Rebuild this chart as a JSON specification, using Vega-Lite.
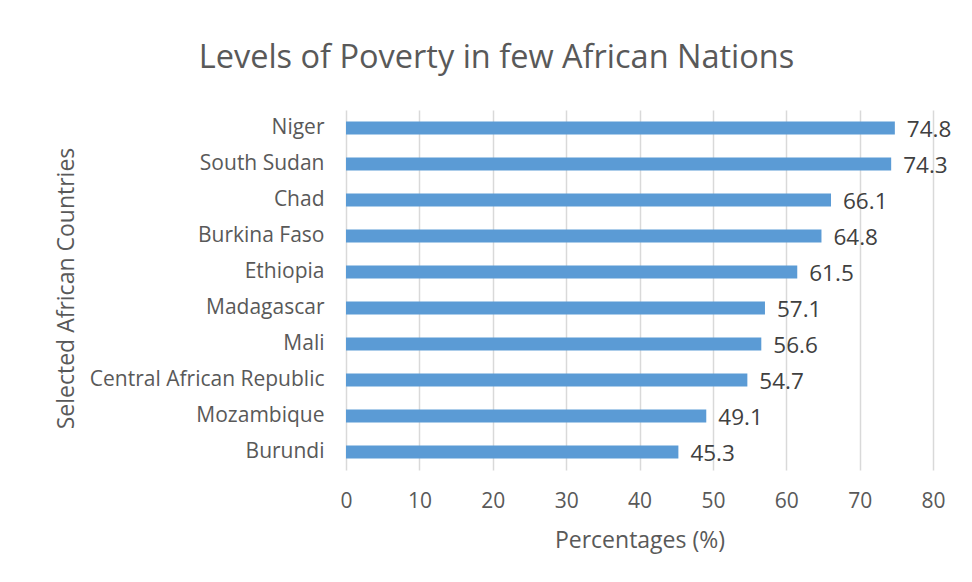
{
  "$schema": "https://vega.github.io/schema/vega-lite/v6.json",
  "width": 587,
  "height": 360,
  "autosize": {"type": "none"},
  "padding": {"left": 346, "top": 110, "right": 39, "bottom": 112},
  "background": "white",
  "title": {
    "text": "Levels of Poverty in few African Nations",
    "font": "Open Sans",
    "fontSize": 32.5,
    "fontWeight": "normal",
    "color": "#595959",
    "anchor": "middle",
    "dx": -143,
    "offset": 36
  },
  "data": {
    "values": [
      {"country": "Niger", "poverty": 74.8},
      {"country": "South Sudan", "poverty": 74.3},
      {"country": "Chad", "poverty": 66.1},
      {"country": "Burkina Faso", "poverty": 64.8},
      {"country": "Ethiopia", "poverty": 61.5},
      {"country": "Madagascar", "poverty": 57.1},
      {"country": "Mali", "poverty": 56.6},
      {"country": "Central African Republic", "poverty": 54.7},
      {"country": "Mozambique", "poverty": 49.1},
      {"country": "Burundi", "poverty": 45.3}
    ]
  },
  "encoding": {
    "y": {
      "field": "country",
      "type": "nominal",
      "sort": null,
      "scale": {"paddingInner": 0.64, "paddingOuter": 0.32},
      "axis": {
        "title": "Selected African Countries",
        "titleFont": "Open Sans",
        "titleFontSize": 23,
        "titleFontWeight": "normal",
        "titleColor": "#595959",
        "titleX": -273,
        "titleY": 178,
        "titleAngle": -90,
        "titleAlign": "center",
        "titleBaseline": "alphabetic",
        "labelFont": "Open Sans",
        "labelFontSize": 21,
        "labelColor": "#595959",
        "labelPadding": 22,
        "labelLimit": 400,
        "ticks": false,
        "domain": false
      }
    },
    "x": {
      "field": "poverty",
      "type": "quantitative",
      "scale": {"domain": [0, 80], "nice": false},
      "axis": {
        "title": "Percentages (%)",
        "titleFont": "Open Sans",
        "titleFontSize": 23,
        "titleFontWeight": "normal",
        "titleColor": "#595959",
        "titlePadding": 18,
        "labelFont": "Open Sans",
        "labelFontSize": 21,
        "labelColor": "#595959",
        "labelPadding": 20,
        "labelFlush": false,
        "values": [0, 10, 20, 30, 40, 50, 60, 70, 80],
        "grid": true,
        "gridColor": "#d9d9d9",
        "gridWidth": 1.5,
        "ticks": false,
        "domain": false
      }
    }
  },
  "layer": [
    {"mark": {"type": "bar", "color": "#5b9bd5"}},
    {
      "mark": {
        "type": "text",
        "align": "left",
        "baseline": "middle",
        "dx": 12,
        "dy": 2,
        "font": "Open Sans",
        "fontSize": 22.5,
        "color": "#404040"
      },
      "encoding": {"text": {"field": "poverty", "type": "quantitative", "format": ".1f"}}
    }
  ],
  "config": {"view": {"stroke": null}}
}
